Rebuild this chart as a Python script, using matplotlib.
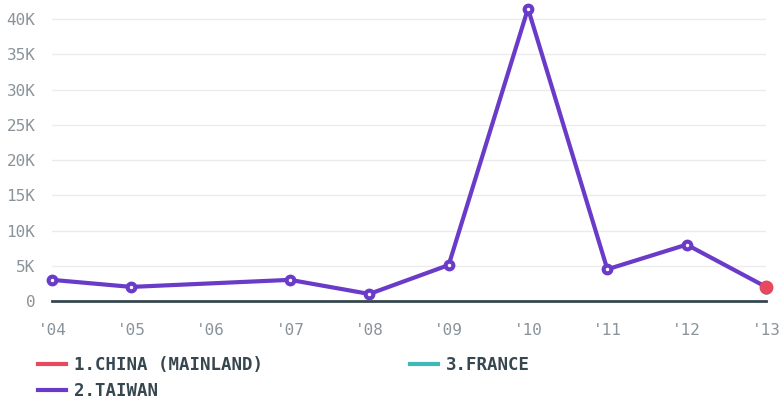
import matplotlib.pyplot as plt
from matplotlib.lines import Line2D

# categories
years = ["'04", "'05", "'06", "'07", "'08", "'09", "'10", "'11", "'12", "'13"]

# series values (year label -> value)
taiwan_years = ["'04", "'05", "'07", "'08", "'09", "'10", "'11", "'12", "'13"]
taiwan_vals = [3000, 2000, 3000, 1000, 5100, 41500, 4500, 8000, 2000]
china_years = ["'13"]
china_vals = [2000]
france_years = ["'13"]
france_vals = [1800]

yticks = [0, 5000, 10000, 15000, 20000, 25000, 30000, 35000, 40000]
ytick_labels = ['0', '5K', '10K', '15K', '20K', '25K', '30K', '35K', '40K']

purple = '#6a3bc8'
red = '#e8495e'
teal = '#3fb9b5'

plt.rcParams['font.family'] = ['DejaVu Sans Mono']

fig = plt.figure(figsize=(7.8, 4.01), dpi=100)
ax = fig.add_axes([52 / 780, 100 / 401, 714 / 780, 296 / 401])

xi = lambda ys: [years.index(y) for y in ys]

ax.plot(xi(france_years), france_vals, color=teal, lw=3, marker='o', ms=8,
        clip_on=False, zorder=3)
ax.plot(xi(taiwan_years), taiwan_vals, color=purple, lw=3, marker='o', ms=7.5,
        clip_on=False, zorder=4)
# little white centre dot of each point
ax.plot(xi(taiwan_years), taiwan_vals, ls='none', marker='o', ms=2.5,
        color='white', mew=0, clip_on=False, zorder=4.5)
ax.plot(xi(china_years), china_vals, color=red, lw=3, marker='o', ms=9,
        clip_on=False, zorder=5)

ax.set_xlim(0, len(years) - 1)
ax.set_ylim(0, 42000)
ax.set_xticks(range(len(years)))
ax.set_xticklabels(years)
ax.set_yticks(yticks)
ax.set_yticklabels(ytick_labels)
ax.tick_params(length=0, labelsize=11.5, colors='#8a9399')
ax.tick_params(axis='y', pad=12)
ax.tick_params(axis='x', pad=16)
ax.grid(axis='y', color='#ebebeb', lw=1)
ax.set_axisbelow(True)
for s in ['top', 'right', 'left']:
    ax.spines[s].set_visible(False)
ax.spines['bottom'].set_color('#37474f')
ax.spines['bottom'].set_linewidth(2)

handles = [Line2D([], [], color=red, lw=3),
           Line2D([], [], color=purple, lw=3),
           Line2D([], [], color=teal, lw=3)]
labels = ['1.CHINA (MAINLAND)', '2.TAIWAN', '3.FRANCE']
fig.legend(handles, labels, ncol=2, loc='upper left', bbox_to_anchor=(38 / 780, 1 - 356 / 401),
           frameon=False, borderpad=0, borderaxespad=0, handlelength=1.6, handletextpad=0.45,
           columnspacing=8.5, labelspacing=0.45,
           prop={'weight': 'bold', 'size': 12.5}, labelcolor='#37474f')

fig.savefig('out.png', dpi=100)
